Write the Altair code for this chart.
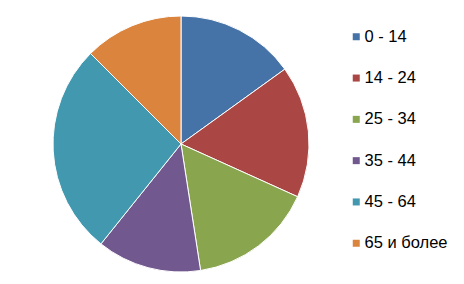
import altair as alt
import pandas as pd

groups = ["\u00a00 - 14", "14 - 24", "25 - 34", "35 - 44", "45 - 64", "65 и более"]
shares = [15.06, 16.7, 15.8, 13.2, 26.75, 12.5]
colors = ["#4572A7", "#AA4643", "#89A54E", "#71588F", "#4198AF", "#DB843D"]

df = pd.DataFrame({"group": groups, "share": shares, "idx": list(range(len(groups)))})

chart = alt.Chart(df).mark_arc(radius=128, stroke="white", strokeWidth=1).encode(
    theta=alt.Theta("share:Q", stack=True),
    order=alt.Order("idx:Q"),
    color=alt.Color(
        "group:N",
        sort=groups,
        scale=alt.Scale(domain=groups, range=colors),
        legend=alt.Legend(
            title=None,
            orient="none",
            legendX=348,
            legendY=28.5,
            symbolType="square",
            symbolSize=49,
            symbolStrokeWidth=0,
            labelFont="Liberation Sans",
            labelFontSize=16.5,
            labelColor="#000000",
            labelOffset=0,
            rowPadding=24.3,
            padding=0,
        ),
    ),
    x=alt.value(181),
    y=alt.value(144),
).properties(
    width=464, height=284, autosize=alt.AutoSizeParams(type="none"), padding=0
).configure_view(stroke=None)

chart.save("out.html", embed_options={"renderer": "svg", "actions": False})
